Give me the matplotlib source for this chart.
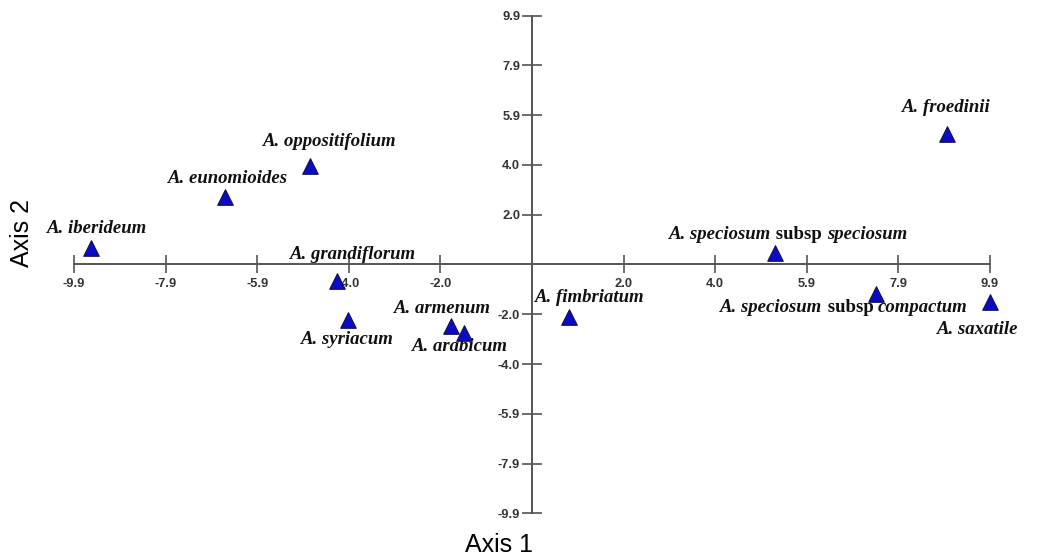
import matplotlib
matplotlib.use('Agg')
import matplotlib.pyplot as plt
from matplotlib.transforms import offset_copy

# species scores on axis 1 / axis 2
species = ['A. iberideum', 'A. eunomioides', 'A. oppositifolium', 'A. grandiflorum',
           'A. syriacum', 'A. armenum', 'A. arabicum', 'A. fimbriatum',
           'A. speciosum subsp speciosum', 'A. speciosum subsp compactum',
           'A. froedinii', 'A. saxatile']
axis1 = [-9.53, -6.64, -4.80, -4.22, -3.98, -1.75, -1.46, 0.79, 5.25, 7.44, 8.96, 9.90]
axis2 = [0.65, 2.68, 3.92, -0.64, -2.21, -2.45, -2.72, -2.08, 0.44, -1.19, 5.21, -1.50]

# label offsets in pixels (dx, dy) relative to the marker
offsets = [(6, 20), (3, 19), (20, 24), (16, 26), (0, -19), (-9, 18), (-4, -14),
           (21, 19), (13, 19), (-32, -13), (0, 26), (-12, -27)]

ticks = [-9.9, -7.92, -5.94, -3.96, -1.98, 1.98, 3.96, 5.94, 7.92, 9.9]
tick_labels = ['-9.9', '-7.9', '-5.9', '-4.0', '-2.0', '2.0', '4.0', '5.9', '7.9', '9.9']

W, H = 1039, 559
fig = plt.figure(figsize=(W / 100, H / 100), dpi=100)
ax = fig.add_axes([74 / W, (H - 513.3) / H, 916 / W, 497.6 / H])
ax.set_xlim(-9.9, 9.9)
ax.set_ylim(-9.9, 9.9)

axcol = '#555555'
for s in ['top', 'right']:
    ax.spines[s].set_visible(False)
ax.spines['left'].set_position(('data', 0))
ax.spines['bottom'].set_position(('data', 0))
for s in ['left', 'bottom']:
    ax.spines[s].set_color(axcol)
    ax.spines[s].set_linewidth(1.4)

ax.set_xticks(ticks)
ax.set_xticklabels(tick_labels)
ax.set_yticks(ticks)
ax.set_yticklabels(tick_labels)
ax.tick_params(axis='x', direction='inout', length=12.5, width=1.2, color=axcol, pad=3.5)
ax.tick_params(axis='y', direction='inout', length=14, width=1.2, color=axcol, pad=1.5)
for lab in ax.get_xticklabels() + ax.get_yticklabels():
    lab.set_family('Liberation Sans')
    lab.set_fontweight('bold')
    lab.set_fontsize(9.3)
    lab.set_color('#333333')

ax.scatter(axis1, axis2, marker='^', s=125, c='#0a0ac8', edgecolors='#10104a',
           linewidths=0.8, zorder=5, clip_on=False)

renderer = fig.canvas.get_renderer()
font = dict(family='Liberation Serif', fontweight='bold', fontsize=13.5,
            color='#111111', va='center', zorder=4)

for name, x, y, (dx, dy) in zip(species, axis1, axis2, offsets):
    if 'subsp' not in name:
        ax.annotate(name, (x, y), xytext=(dx * 0.72, dy * 0.72),
                    textcoords='offset points', ha='center',
                    fontstyle='italic', **font)
        continue
    a, b = name.split(' subsp ')
    parts = [(a, 'italic'), (' subsp ', 'normal'), (b, 'italic')]
    # measure the pieces, then lay them out side by side around the label centre
    widths = []
    for txt, st in parts:
        t = ax.text(0, 0, txt, fontstyle=st, **font)
        widths.append(t.get_window_extent(renderer).width)
        t.remove()
    start = dx - sum(widths) / 2
    for (txt, st), w in zip(parts, widths):
        tr = offset_copy(ax.transData, fig=fig, x=start, y=dy, units='dots')
        ax.text(x, y, txt, transform=tr, ha='left', fontstyle=st, **font)
        start += w

fig.text(499 / W, 1 - 545 / H, 'Axis 1', ha='center', va='center',
         family='Liberation Sans', fontsize=18)
fig.text(22 / W, 1 - 233 / H, 'Axis 2', ha='center', va='center', rotation=90,
         family='Liberation Sans', fontsize=18)

fig.savefig('out.png', dpi=100)
